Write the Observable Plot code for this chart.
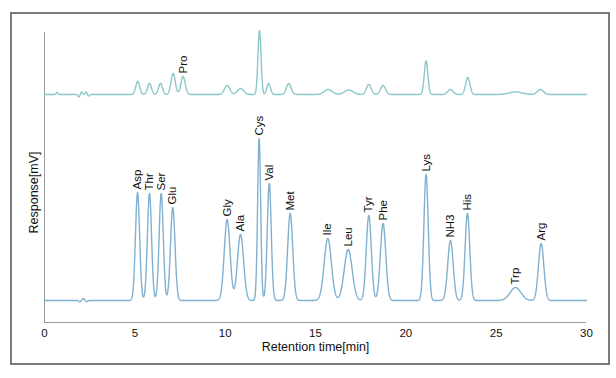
<!DOCTYPE html>
<html>
<head>
<meta charset="utf-8">
<script src="https://cdn.jsdelivr.net/npm/d3@7"></script>
<script src="https://cdn.jsdelivr.net/npm/@observablehq/plot@0.6"></script>
<style>
  html, body { margin: 0; padding: 0; background: #fff; }
  #wrap { position: relative; width: 616px; height: 378px; overflow: hidden; }
  #frame { position: absolute; left: 10px; top: 12px; width: 600px; height: 353px; border: 2px solid #7a7a7a; box-sizing: border-box; pointer-events: none; }
  #chart { position: absolute; left: 0; top: 0; }
</style>
</head>
<body>
<div id="wrap"><div id="chart"></div><div id="frame"></div></div>
<script>
// ---- Data ----
// Lower trace: amino-acid standard (labelled peaks)
const lowerNames   = ["Asp","Thr","Ser","Glu","Gly","Ala","Cys","Val","Met","Ile","Leu","Tyr","Phe","Lys","NH3","His","Trp","Arg"];
const lowerTimes   = [5.15, 5.81, 6.46, 7.10, 10.11, 10.85, 11.88, 12.44, 13.60, 15.68, 16.81, 17.95, 18.74, 21.12, 22.47, 23.41, 26.07, 27.49];
const lowerHeights = [108, 107, 107, 93, 81, 66, 162, 117, 87, 62, 51, 85, 77, 126, 60, 87, 13, 57];
const lowerWidths  = [0.115, 0.115, 0.115, 0.125, 0.16, 0.17, 0.085, 0.11, 0.14, 0.20, 0.22, 0.14, 0.15, 0.12, 0.15, 0.13, 0.30, 0.15];
// small baseline disturbances of the lower trace
const lowerNoiseTimes   = [1.95, 2.15, 2.35];
const lowerNoiseHeights = [-1.5, 2.0, -1.2];

// Upper trace: sample (only Pro labelled)
const upperNames   = ["", "", "", "", "Pro", "", "", "", "", "", "", "", "", "", "", "", "", "", ""];
const upperTimes   = [5.16, 5.81, 6.42, 7.12, 7.67, 10.11, 10.85, 11.90, 12.41, 13.52, 15.70, 16.84, 17.95, 18.74, 21.12, 22.47, 23.43, 26.07, 27.45];
const upperHeights = [13, 11, 11, 21, 18, 9, 6, 64, 11, 11, 5, 4.5, 10, 9, 33.6, 5, 17, 2.6, 5];
const upperWidths  = [0.11, 0.11, 0.11, 0.12, 0.12, 0.15, 0.17, 0.085, 0.10, 0.13, 0.22, 0.24, 0.13, 0.14, 0.10, 0.15, 0.12, 0.35, 0.17];
const upperNoiseTimes   = [0.70, 1.90, 2.05, 2.30, 2.45];
const upperNoiseHeights = [2.0, -2.5, 2.5, 2.5, -1.5];
const upperOffset = 206;   // vertical offset of the upper trace (mV)

const xTicks = [0, 5, 10, 15, 20, 25, 30];
const xDomain = [0, 30];
const yDomain = [-22, 268];
const xLabel = "Retention time[min]";
const yLabel = "Response[mV]";

// ---- Build traces from the peak tables ----
function trace(times, heights, widths, nTimes, nHeights, offset) {
  return d3.range(0, 30.0001, 0.01).map(t => {
    let v = offset;
    for (let i = 0; i < times.length; i++) {
      const z = (t - times[i]) / widths[i];
      v += heights[i] * Math.exp(-0.5 * z * z);
    }
    for (let i = 0; i < nTimes.length; i++) {
      const z = (t - nTimes[i]) / 0.05;
      v += nHeights[i] * Math.exp(-0.5 * z * z);
    }
    return {t, v};
  });
}
const lowerCurve = trace(lowerTimes, lowerHeights, lowerWidths, lowerNoiseTimes, lowerNoiseHeights, 0);
const upperCurve = trace(upperTimes, upperHeights, upperWidths, upperNoiseTimes, upperNoiseHeights, upperOffset);

const lowerLabels = lowerNames.map((name, i) => ({name, t: lowerTimes[i], h: lowerHeights[i]}));
const upperLabels = upperNames.map((name, i) => ({name, t: upperTimes[i], h: upperHeights[i] + upperOffset})).filter(d => d.name);

const gap = 3;

const chart = Plot.plot({
  width: 616,
  height: 378,
  marginLeft: 44,
  marginRight: 30,
  marginTop: 32,
  marginBottom: 56,
  style: {fontFamily: "'Liberation Sans', Arial, sans-serif", fontSize: "11px", color: "#111", background: "transparent"},
  x: {domain: xDomain},
  y: {domain: yDomain, axis: null},
  marks: [
    Plot.ruleX([xDomain[0]], {stroke: "#999", strokeWidth: 1}),
    Plot.ruleY([yDomain[0]], {stroke: "#999", strokeWidth: 1}),
    Plot.line(upperCurve, {x: "t", y: "v", stroke: "#8cc7ca", strokeWidth: 1.4}),
    Plot.line(lowerCurve, {x: "t", y: "v", stroke: "#80b1d0", strokeWidth: 1.4}),
    Plot.text(lowerLabels, {x: "t", y: d => d.h + gap, text: "name", rotate: -90, textAnchor: "start", fontSize: 11.5, fill: "#111"}),
    Plot.text(upperLabels, {x: "t", y: d => d.h + gap, text: "name", rotate: -90, textAnchor: "start", fontSize: 11.5, fill: "#111"}),
    Plot.axisX({ticks: xTicks, tickSize: 0, tickPadding: 6, fontSize: 11.5, label: null}),
    Plot.text([xLabel], {frameAnchor: "bottom", dy: 28, fontSize: 12.5, fill: "#111"}),
    Plot.text([yLabel], {frameAnchor: "left", rotate: -90, textAnchor: "middle", dx: -11, dy: 15, fontSize: 12.5, fill: "#111"})
  ]
});
document.getElementById("chart").appendChild(chart);
</script>
</body>
</html>
